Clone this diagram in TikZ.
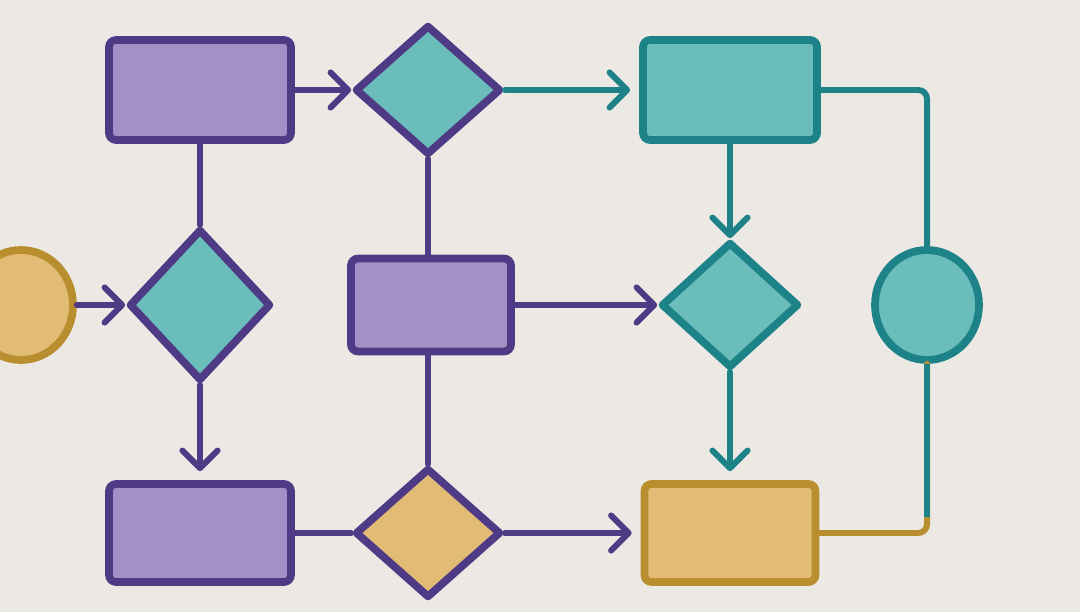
\documentclass[tikz,border=0pt]{standalone}
\usetikzlibrary{shapes.geometric,arrows.meta,calc}

\definecolor{bgcol}{HTML}{ECE9E5}
\definecolor{purpline}{HTML}{4E3A85}
\definecolor{purpfill}{HTML}{A48FC6}
\definecolor{tealline}{HTML}{1D8389}
\definecolor{tealfill}{HTML}{6BBDBB}
\definecolor{goldline}{HTML}{B98E2F}
\definecolor{goldfill}{HTML}{E2BC74}

\begin{document}
\begin{tikzpicture}[
    box/.style={rectangle, rounded corners=2pt, line width=2.2pt, inner sep=0pt},
    dec/.style={diamond, line width=2.2pt, inner sep=0pt, line join=round},
    orb/.style={ellipse, line width=2.2pt, inner sep=0pt,
      minimum width=1.04cm, minimum height=1.10cm},
    purp/.style={draw=purpline, fill=purpfill},
    teal/.style={draw=tealline, fill=tealfill},
    gold/.style={draw=goldline, fill=goldfill},
    link/.style={line width=1.7pt, line cap=round},
    tip/.style={-{Straight Barb[length=5pt,width=10pt,line join=round,line cap=round]}},
    togap/.style={shorten >=0.09cm}
  ]

  % Canvas size and background
  \useasboundingbox (0,0) rectangle (10.8,6.12);
  \fill[bgcol] (0,0) rectangle (10.8,6.12);

  % Grid columns and rows
  \def\colA{2.00}
  \def\colB{4.28}
  \def\colC{7.30}
  \def\colD{9.27}
  \def\rowT{5.22}
  \def\rowM{3.07}
  \def\rowB{0.79}

  % Top row
  \node[box, purp, minimum width=1.82cm, minimum height=1.00cm] (R1) at (\colA,\rowT) {};
  \node[dec, teal, draw=purpline, minimum width=1.46cm, minimum height=1.30cm] (D1) at (\colB,\rowT) {};
  \node[box, teal, minimum width=1.74cm, minimum height=1.00cm] (R2) at (\colC,\rowT) {};

  % Middle row
  \node[orb, gold] (C1) at (0.21,\rowM) {};
  \node[dec, teal, draw=purpline, minimum width=1.42cm, minimum height=1.52cm] (D2) at (\colA,\rowM) {};
  \node[box, purp, minimum width=1.60cm, minimum height=0.93cm] (R3) at (\colB+0.03,\rowM) {};
  \node[dec, teal, minimum width=1.38cm, minimum height=1.26cm] (D3) at (\colC,\rowM) {};
  \node[orb, teal] (C2) at (\colD,\rowM) {};

  % Bottom row
  \node[box, purp, minimum width=1.82cm, minimum height=0.98cm] (R4) at (\colA,\rowB) {};
  \node[dec, gold, draw=purpline, minimum width=1.46cm, minimum height=1.30cm] (D4) at (\colB,\rowB) {};
  \node[box, gold, minimum width=1.71cm, minimum height=0.98cm] (R5) at (\colC,\rowB) {};

  % Purple connectors
  \draw[link, purpline, tip] (R1) -- (D1);
  \draw[link, purpline] (R1) -- (D2);
  \draw[link, purpline] (D1.south) -- (D1.south |- R3.north);
  \draw[link, purpline, tip] (C1) -- (D2);
  \draw[link, purpline, tip, togap] (D2) -- (R4);
  \draw[link, purpline, tip] (R3) -- (D3);
  \draw[link, purpline] (D4.north |- R3.south) -- (D4.north);
  \draw[link, purpline] (R4) -- (D4);
  \draw[link, purpline, tip, togap] (D4) -- (R5);

  % Teal connectors
  \draw[link, tealline, tip, togap] (D1) -- (R2);
  \draw[link, tealline, tip] (R2) -- (D3);
  \draw[link, tealline, tip, togap] (D3) -- (R5);
  \draw[link, tealline, rounded corners=2.5pt] (R2.east) -| (C2.north);

  % Return line, teal fading into gold at the corner
  \coordinate (turn) at ($(C2.south |- R5.east)+(0,0.16)$);
  \draw[link, goldline, rounded corners=2.5pt] (C2.south) |- (R5.east);
  \draw[link, tealline, line cap=butt] (C2.south) -- (turn);

\end{tikzpicture}
\end{document}
